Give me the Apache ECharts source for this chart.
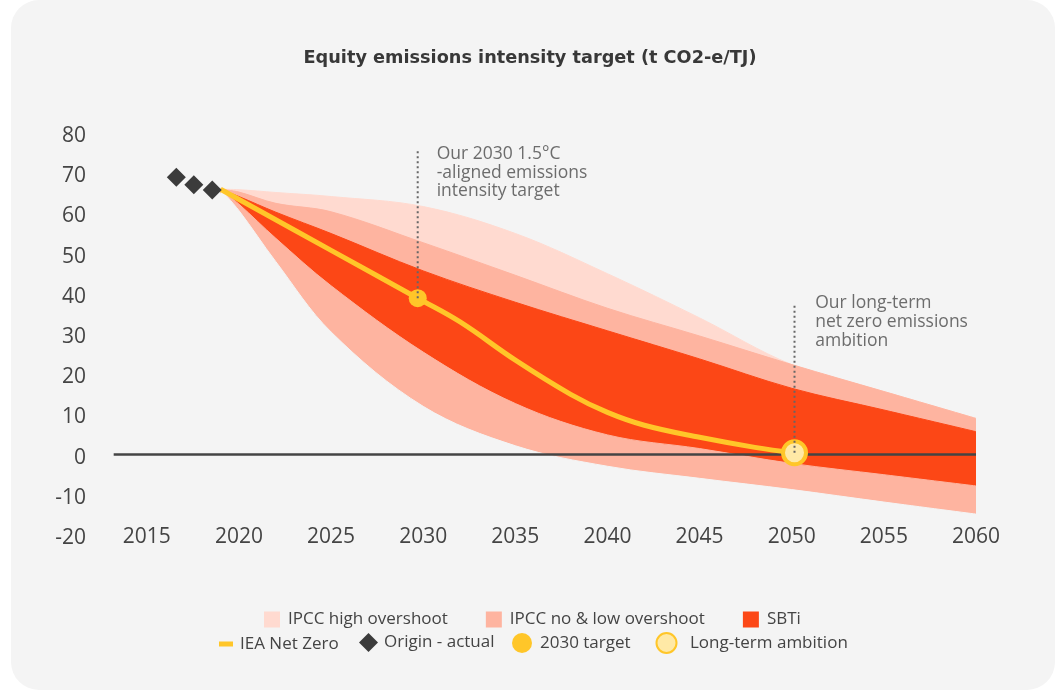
<!DOCTYPE html>
<html>
<head>
<meta charset="utf-8">
<script src="https://cdn.jsdelivr.net/npm/echarts@6/dist/echarts.min.js"></script>
<style>
  html, body { margin: 0; padding: 0; background: #ffffff; }
  #card { position: absolute; left: 11px; top: 0; width: 1044px; height: 690px; border-radius: 28px; background: #f4f4f4; }
  #main { position: absolute; left: 0; top: 0; width: 1060px; height: 690px; }
</style>
</head>
<body>
<div id="card"></div>
<div id="main"></div>
<script>
// band boundaries (t CO2-e/TJ)
var years = [2019, 2020, 2022, 2025, 2030, 2035, 2040, 2045, 2050, 2055, 2060];
var ipccHighTop = [66.0, 65.9, 65.2, 64.2, 61.7, 55.0, 45.0, 34.0, 22.4, 15.7, 9.0];
var ipccLowTop = [66.0, 65.3, 62.5, 60.4, 52.7, 44.6, 36.4, 29.5, 22.4, 15.7, 9.0];
var sbtiTop = [66.0, 64.2, 60.3, 55.0, 45.7, 37.9, 30.8, 23.8, 16.5, 11.1, 5.7];
var sbtiBottom = [66.0, 62.3, 53.8, 42.0, 25.5, 12.7, 4.9, 1.5, -2.2, -5.0, -7.8];
var ipccLowBottom = [66.0, 60.7, 48.0, 30.5, 12.0, 2.2, -2.9, -5.9, -8.7, -11.8, -14.8];

var ieaYears = [2019, 2025, 2029.7, 2032, 2035, 2038, 2040, 2042, 2045, 2048, 2050.15];
var ieaValues = [66.0, 50.8, 38.9, 33.0, 23.5, 15.0, 10.5, 7.3, 4.3, 1.8, 0.45];

var originYears = [2016.6, 2017.55, 2018.55];
var originValues = [69.0, 67.1, 65.8];

var target2030 = [2029.7, 38.9];
var ambition = [2050.15, 0.45];
var zeroLine = [[2013.2, 0], [2060, 0]];

var xTickLabels = [2015, 2020, 2025, 2030, 2035, 2040, 2045, 2050, 2055, 2060];

var note2030 = 'Our 2030 1.5°C\n-aligned emissions\nintensity target';
var noteTop2030 = 76;
var noteAmbition = 'Our long-term\nnet zero emissions\nambition';
var noteTopAmbition = 37.6;

var FONT = 'Open Sans';
var YELLOW = '#ffc629';
var CARD = '#f4f4f4';
var Y_MIN = -20;

function pairs(xs, ys) {
  return xs.map(function (x, i) { return [x, ys[i]]; });
}

// each boundary is filled down to the axis bottom; painted top band first
function layer(name, values, color, z) {
  return {
    name: name,
    type: 'line',
    smooth: 0.35,
    symbol: 'none',
    silent: true,
    color: color,
    lineStyle: { width: 1, color: color },
    areaStyle: { color: color, opacity: 1, origin: 'start' },
    data: pairs(years, values),
    z: z
  };
}

var legendText = { fontFamily: FONT, fontSize: 17, color: '#444' };

var myChart = echarts.init(document.getElementById('main'));

var option = {
  animation: false,
  backgroundColor: 'transparent',
  textStyle: { fontFamily: FONT },
  title: {
    text: 'Equity emissions intensity target (t CO2-e/TJ)',
    left: 'center',
    top: 44,
    textStyle: { fontFamily: 'DejaVu Sans', fontSize: 17.7, fontWeight: 'bold', color: '#383838' }
  },
  grid: { left: 110, right: 84, top: 133, bottom: 155 },
  legend: [
    {
      data: ['IPCC high overshoot', 'IPCC no & low overshoot', 'SBTi'],
      icon: 'rect', left: 259, top: 606, itemWidth: 16, itemHeight: 16, itemGap: 38,
      selectedMode: false,
      textStyle: Object.assign({ padding: [0, 0, 0, 3] }, legendText)
    },
    {
      data: ['IEA Net Zero'], icon: 'rect', left: 214, top: 630.5, itemWidth: 14, itemHeight: 5,
      selectedMode: false,
      textStyle: Object.assign({ padding: [0, 0, 0, 2] }, legendText)
    },
    {
      data: ['Origin - actual'], icon: 'diamond', left: 354, top: 628, itemWidth: 19, itemHeight: 19,
      selectedMode: false,
      textStyle: Object.assign({ padding: [0, 0, 0, 1] }, legendText)
    },
    {
      data: ['2030 target'], icon: 'circle', left: 507, top: 628, itemWidth: 20, itemHeight: 20,
      selectedMode: false,
      textStyle: Object.assign({ padding: [0, 0, 0, 3] }, legendText)
    },
    {
      data: ['Long-term ambition'], icon: 'circle', left: 650.5, top: 627, itemWidth: 20, itemHeight: 20,
      selectedMode: false,
      textStyle: Object.assign({ padding: [0, 0, 0, 8.5] }, legendText)
    }
  ],
  xAxis: {
    type: 'value',
    min: 2013,
    max: 2060,
    z: 10,
    axisLine: { show: false },
    axisTick: { show: false },
    splitLine: { show: false },
    axisLabel: {
      customValues: xTickLabels,
      fontSize: 21,
      color: '#444',
      verticalAlign: 'middle',
      margin: 2,
      formatter: function (v) { return String(v); }
    }
  },
  yAxis: {
    type: 'value',
    min: Y_MIN,
    max: 80,
    interval: 10,
    axisLine: { show: false },
    axisTick: { show: false },
    splitLine: { show: false },
    axisLabel: {
      margin: 24,
      formatter: function (v) { return '{v|' + v + '}'; },
      rich: { v: { fontFamily: FONT, fontSize: 21, color: '#444', padding: [6, 0, 0, 0] } }
    }
  },
  series: [
    layer('IPCC high overshoot', ipccHighTop, '#ffdad0', 1),
    layer('IPCC no & low overshoot', ipccLowTop, '#feb4a0', 1.1),
    layer('SBTi', sbtiTop, '#fc4716', 1.2),
    layer('lower no & low', sbtiBottom, '#feb4a0', 1.3),
    layer('below bands', ipccLowBottom, CARD, 1.4),
    {
      // hides the seam left where the filled layers start
      name: 'seam', type: 'line', symbol: 'none', silent: true,
      lineStyle: { color: CARD, width: 2 },
      data: [[years[0], ipccLowBottom[0] - 1], [years[0], Y_MIN]], z: 1.5
    },
    {
      name: 'zero', type: 'line', symbol: 'none', silent: true,
      lineStyle: { color: '#444', width: 2.5 },
      data: zeroLine, z: 3
    },
    {
      name: 'IEA Net Zero', type: 'line', symbol: 'none', smooth: 0.4,
      color: YELLOW,
      lineStyle: { color: YELLOW, width: 5 },
      data: pairs(ieaYears, ieaValues), z: 4
    },
    {
      name: 'Origin - actual', type: 'scatter', symbol: 'diamond', symbolSize: 19,
      itemStyle: { color: '#3b3b3b', opacity: 1 },
      data: pairs(originYears, originValues), z: 5
    },
    {
      name: '2030 target', type: 'scatter', symbol: 'circle', symbolSize: 18,
      itemStyle: { color: YELLOW, opacity: 1 },
      data: [target2030], z: 5
    },
    {
      name: 'Long-term ambition', type: 'scatter', symbol: 'circle', symbolSize: 23,
      itemStyle: { color: '#ffe9a6', borderColor: YELLOW, borderWidth: 4, opacity: 1 },
      data: [ambition], z: 5
    },
    {
      name: 'guide2030', type: 'line', symbol: 'none', silent: true,
      lineStyle: { color: '#666', width: 2, type: [2, 3] },
      data: [target2030, [target2030[0], noteTop2030]], z: 6
    },
    {
      name: 'guideAmbition', type: 'line', symbol: 'none', silent: true,
      lineStyle: { color: '#666', width: 2, type: [2, 3] },
      data: [ambition, [ambition[0], noteTopAmbition]], z: 6
    },
    {
      name: 'notes', type: 'scatter', symbolSize: 0, silent: true,
      label: {
        show: true, align: 'left', verticalAlign: 'top',
        fontFamily: FONT, fontSize: 17.5, lineHeight: 18.7, color: '#4a4a4a'
      },
      data: [
        { value: [target2030[0], noteTop2030], label: { formatter: note2030, position: [19, -4.5] } },
        { value: [ambition[0], noteTopAmbition], label: { formatter: noteAmbition, position: [20.7, -9.3] } }
      ],
      z: 7
    }
  ]
};

myChart.setOption(option);
</script>
</body>
</html>
